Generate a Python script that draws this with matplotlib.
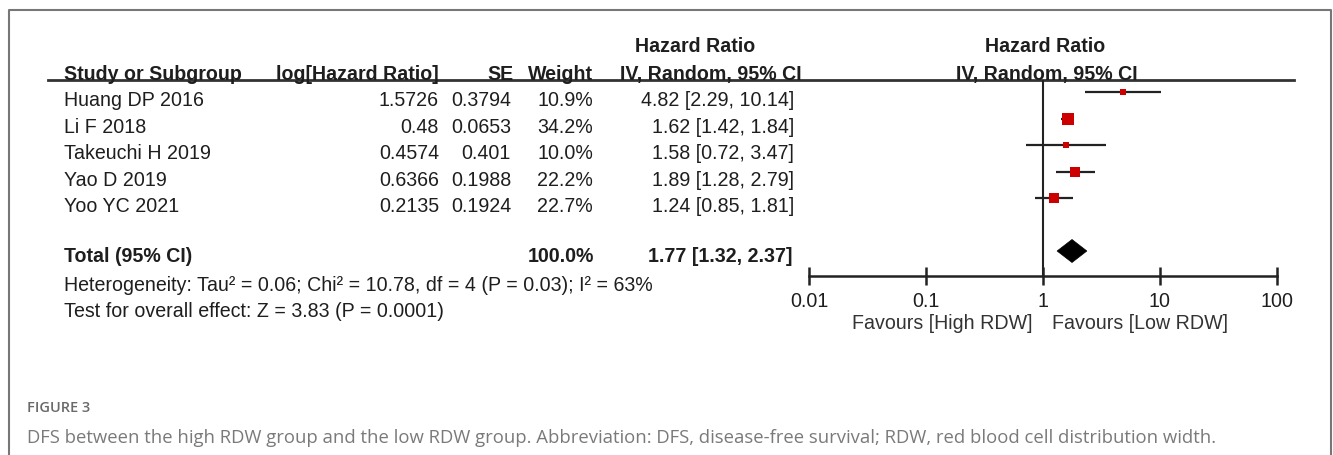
import matplotlib
matplotlib.use("Agg")
import matplotlib.pyplot as plt
from matplotlib.patches import Polygon
import numpy as np

# ---- data ----
studies = ["Huang DP 2016", "Li F 2018", "Takeuchi H 2019", "Yao D 2019", "Yoo YC 2021"]
log_hr = ["1.5726", "0.48", "0.4574", "0.6366", "0.2135"]
se = ["0.3794", "0.0653", "0.401", "0.1988", "0.1924"]
weights = [10.9, 34.2, 10.0, 22.2, 22.7]
hr = [4.82, 1.62, 1.58, 1.89, 1.24]
ci_lo = [2.29, 1.42, 0.72, 1.28, 0.85]
ci_hi = [10.14, 1.84, 3.47, 2.79, 1.81]
total_weight = 100.0
total_hr, total_lo, total_hi = 1.77, 1.32, 2.37
heterogeneity = "Heterogeneity: Tau² = 0.06; Chi² = 10.78, df = 4 (P = 0.03); I² = 63%"
overall = "Test for overall effect: Z = 3.83 (P = 0.0001)"
ticks = [0.01, 0.1, 1, 10, 100]
tick_labels = ["0.01", "0.1", "1", "10", "100"]
fav_left = "Favours [High RDW]"
fav_right = "Favours [Low RDW]"
fig_label = "FIGURE 3"
caption = ("DFS between the high RDW group and the low RDW group. Abbreviation: DFS, "
           "disease-free survival; RDW, red blood cell distribution width.")

# ---- layout ----
W, H = 1333, 455
FS = 14.1
TXT = "#1e1e1e"
FONT = "Liberation Sans"
plt.rcParams['font.family'] = [FONT, 'DejaVu Sans']

fig = plt.figure(figsize=(W / 100, H / 100), dpi=100)
ax0 = fig.add_axes([0, 0, 1, 1])
ax0.set_xlim(0, W)
ax0.set_ylim(H, 0)
ax0.axis("off")

# frame
ax0.plot([9, 9, 1331, 1331], [H + 5, 10, 10, H + 5], color="#777777", lw=1.5, solid_capstyle="butt")

def t(x, y, s, ha="left", bold=False, color=TXT):
    ax0.text(x, y + 1.5, s, ha=ha, va="center", fontsize=FS,
             weight="bold" if bold else "normal", color=color)

# headers
hdr_y1, hdr_y2 = 45, 73
t(695, hdr_y1, "Hazard Ratio", "center", True)
t(1045, hdr_y1, "Hazard Ratio", "center", True)
t(64, hdr_y2, "Study or Subgroup", "left", True)
t(439, hdr_y2, "log[Hazard Ratio]", "right", True)
t(513, hdr_y2, "SE", "right", True)
t(593, hdr_y2, "Weight", "right", True)
t(711, hdr_y2, "IV, Random, 95% CI", "center", True)
t(1047, hdr_y2, "IV, Random, 95% CI", "center", True)
ax0.plot([48, 1294], [80, 80], color="#333333", lw=2)

row0, dy = 99, 26.6
rows = [row0 + dy * i for i in range(len(studies))]
for i, y in enumerate(rows):
    t(64, y, studies[i])
    t(439, y, log_hr[i], "right")
    t(511, y, se[i], "right")
    t(593, y, f"{weights[i]:.1f}%", "right")
    t(794, y, f"{hr[i]:.2f} [{ci_lo[i]:.2f}, {ci_hi[i]:.2f}]", "right")

ty = 255
t(64, ty, "Total (95% CI)", "left", True)
t(594, ty, f"{total_weight:.1f}%", "right", True)
t(793, ty, f"{total_hr:.2f} [{total_lo:.2f}, {total_hi:.2f}]", "right", True)
t(64, 284, heterogeneity)
t(64, 310, overall)

t(1032, 322, fav_left, "right", color="#333333")
t(1052, 322, fav_right, "left", color="#333333")

ax0.text(27, 408, fig_label, ha="left", va="center", fontsize=10.5, color="#6a6a6a",
         family=["Open Sans", "DejaVu Sans"], weight="semibold")
ax0.text(27, 438, caption, ha="left", va="center", fontsize=13.3, color="#7a7a7a",
         family=["Open Sans", "DejaVu Sans"])

# ---- forest axes ----
x0px, x1px, axis_y, top_y = 809, 1277, 276, 80
axf = fig.add_axes([x0px / W, (H - axis_y) / H, (x1px - x0px) / W, (axis_y - top_y) / H])
axf.set_xscale("log")
axf.set_xlim(ticks[0], ticks[-1])
axf.set_ylim(axis_y, top_y)
axf.patch.set_alpha(0)
for s in ["top", "left", "right"]:
    axf.spines[s].set_visible(False)
axf.spines["bottom"].set_linewidth(1.8)
axf.spines["bottom"].set_color("#222222")
axf.set_xticks(ticks)
axf.set_xticklabels(tick_labels)
axf.xaxis.set_minor_locator(matplotlib.ticker.NullLocator())
axf.tick_params(axis="x", direction="inout", length=13, width=1.8, color="#222222",
                labelsize=FS, labelcolor=TXT, pad=5)
axf.set_yticks([])
axf.axvline(1, color="#222222", lw=1.5)

for i, y in enumerate(rows):
    my = y - 7
    axf.plot([ci_lo[i], ci_hi[i]], [my, my], color="#222222", lw=1.6, solid_capstyle="butt")
    side = 2.05 * np.sqrt(weights[i])  # px
    axf.plot([hr[i]], [my], marker="s", markersize=side * 0.72, color="#cc0000",
             markeredgewidth=0)

dyc = ty - 4
dh = 11.5
diamond = Polygon([[total_lo, dyc], [total_hr, dyc - dh], [total_hi, dyc], [total_hr, dyc + dh]],
                  closed=True, facecolor="black", edgecolor="black", lw=0.5)
axf.add_patch(diamond)

fig.savefig("out.png", dpi=100)
